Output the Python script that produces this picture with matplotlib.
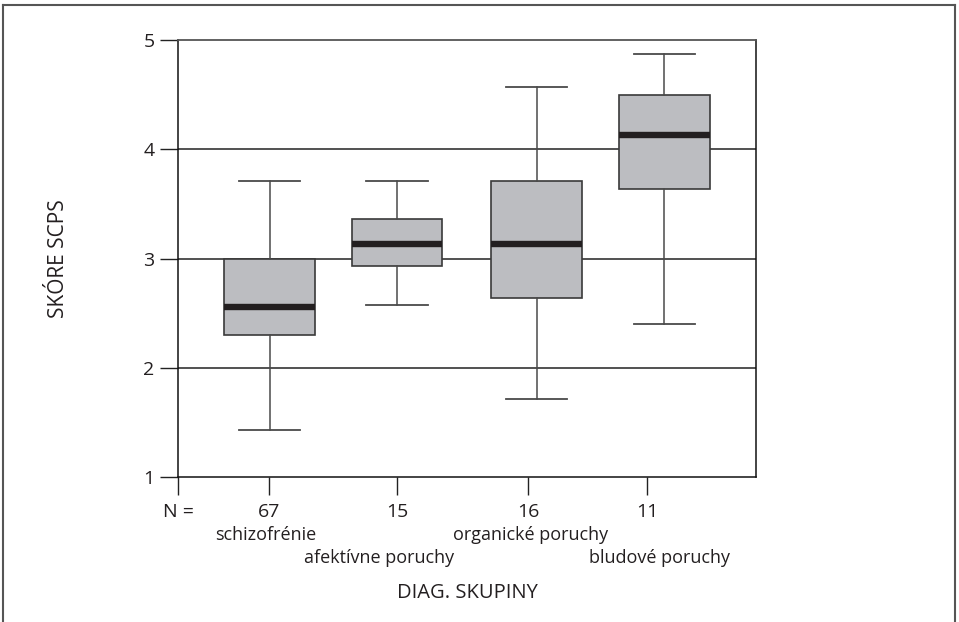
import matplotlib
matplotlib.use("Agg")
import matplotlib.pyplot as plt
from matplotlib.lines import Line2D
from matplotlib.transforms import blended_transform_factory

# scores per diagnostic group (box plot summary)
groups = ["schizofrénie", "afektívne poruchy", "organické poruchy", "bludové poruchy"]
counts = [67, 15, 16, 11]
whis_lo = [1.43, 2.57, 1.71, 2.40]
q1 = [2.30, 2.93, 2.64, 3.64]
median = [2.56, 3.13, 3.13, 4.13]
q3 = [3.00, 3.36, 3.71, 4.50]
whis_hi = [3.71, 3.71, 4.57, 4.87]

plt.rcParams['font.family'] = ['Open Sans', 'DejaVu Sans']
txt_col = '#231f20'

fig = plt.figure(figsize=(9.59, 6.22), dpi=100)
ax = fig.add_axes([178 / 959, 1 - 477 / 622, 578 / 959, 437 / 622])

box_pos = [1.014, 2.005, 3.093, 4.086]
tick_pos = [1.008, 2.005, 3.025, 3.952]
label_pos = [0.985, 1.865, 3.044, 4.045]

stats = []
for i in range(len(groups)):
    stats.append(dict(med=median[i], q1=q1[i], q3=q3[i],
                      whislo=whis_lo[i], whishi=whis_hi[i], fliers=[]))

# horizontal reference lines
for v in [2, 3, 4]:
    ax.axhline(v, color='#222222', lw=1.1, zorder=0)

ax.bxp(stats, positions=box_pos, widths=0.708, patch_artist=True,
       showfliers=False, manage_ticks=False,
       boxprops=dict(facecolor='#bcbdc1', edgecolor='#3a3a3a', lw=1.2),
       medianprops=dict(color=txt_col, lw=4.6, solid_capstyle='butt'),
       whiskerprops=dict(color='#4a4a4a', lw=1.1),
       capprops=dict(color='#4a4a4a', lw=1.3),
       capwidths=0.475)

ax.set_xlim(0.3, 4.8)
ax.set_ylim(1, 5)
ax.set_yticks([1, 2, 3, 4, 5])
ax.set_xticks([0.3] + tick_pos)
ax.set_xticklabels(['N ='] + [str(c) for c in counts])

ax.tick_params(axis='both', direction='out', length=13, width=1.0,
               color='#222222', labelsize=14, labelcolor=txt_col)
ax.tick_params(axis='x', pad=6)
ax.tick_params(axis='y', pad=4)

for side in ['left', 'right', 'bottom']:
    ax.spines[side].set_color('#111111')
    ax.spines[side].set_linewidth(1.1)
ax.spines['top'].set_color('#555555')
ax.spines['top'].set_linewidth(1.3)

# group names, alternating between two rows
tr = blended_transform_factory(ax.transData, ax.transAxes)
rows = [-0.1327, -0.1854]
for i, name in enumerate(groups):
    ax.text(label_pos[i], rows[i % 2], name, transform=tr, ha='center',
            va='center', fontsize=13, color=txt_col)

ax.text(0.5, -0.2654, 'DIAG. SKUPINY', transform=ax.transAxes, ha='center',
        va='center', fontsize=14.5, color=txt_col)
ax.text(-0.2076, 0.499, 'SKÓRE SCPS', transform=ax.transAxes, ha='center',
        va='center', rotation=90, fontsize=15, color=txt_col)

# open frame around the figure
frame = dict(color='#555555', lw=1.5, transform=fig.transFigure)
fig.add_artist(Line2D([3.3 / 959, 3.3 / 959], [0, 1 - 4.7 / 622], **frame))
fig.add_artist(Line2D([3.3 / 959, 954.7 / 959], [1 - 4.7 / 622, 1 - 4.7 / 622], **frame))
fig.add_artist(Line2D([954.7 / 959, 954.7 / 959], [0, 1 - 4.7 / 622], **frame))

fig.savefig('out.png', dpi=100)
